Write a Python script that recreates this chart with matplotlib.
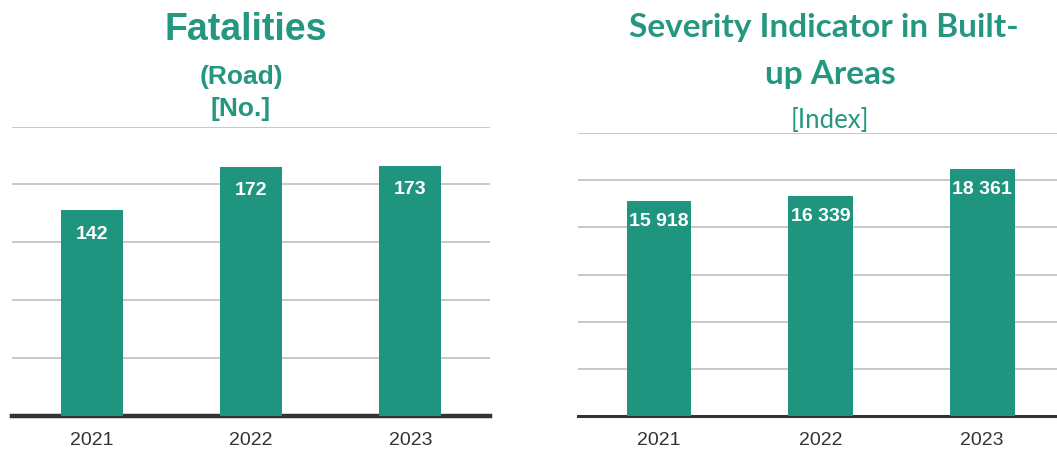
import matplotlib.pyplot as plt

years = ["2021", "2022", "2023"]
fatalities = [142, 172, 173]
severity = [15918, 16339, 18361]

TEAL = "#1f9580"
TITLE_TEAL = "#23977f"
GRID = "#c4c4c4"

plt.rcParams["font.family"] = ["Liberation Sans", "DejaVu Sans"]

fig = plt.figure(figsize=(10.57, 4.52), dpi=100)
W, H = 1057, 452


def px_axes(x0, x1, y_top, y_bottom):
    return fig.add_axes([x0 / W, 1 - y_bottom / H, (x1 - x0) / W, (y_bottom - y_top) / H])


def style(ax, ymax, step, base_lw):
    ax.set_xlim(-0.5, 2.5)
    ax.set_ylim(0, ymax)
    ax.set_yticks([step * i for i in range(1, int(round(ymax / step)) + 1)])
    ax.yaxis.grid(True, color=GRID, linewidth=1.3)
    ax.set_axisbelow(True)
    for s in ["top", "right", "left"]:
        ax.spines[s].set_visible(False)
    ax.spines["bottom"].set_color("#333333")
    ax.spines["bottom"].set_linewidth(base_lw)
    ax.tick_params(axis="y", left=False, labelleft=False)
    ax.tick_params(axis="x", length=0, pad=11, labelsize=14, labelcolor="#333333")


def fmt(v):
    return f"{v:,}".replace(",", " ")


# left panel: road fatalities
ax1 = px_axes(12, 490, 127.5, 417)
ax1.bar(range(3), fatalities, width=0.39, color=TEAL, zorder=3)
ax1.set_xticks(range(3))
ax1.set_xticklabels(years)
style(ax1, 200, 40, 3.2)
for i, v in enumerate(fatalities):
    ax1.annotate(fmt(v), (i, v), xytext=(0, -16.5), textcoords="offset points",
                 ha="center", va="center", color="white", fontsize=14,
                 fontweight="bold", zorder=4)

# right panel: severity indicator
ax2 = px_axes(578, 1063, 134, 417)
ax2.bar(range(3), severity, width=0.4, color=TEAL, zorder=3)
ax2.set_xticks(range(3))
ax2.set_xticklabels(years)
style(ax2, 21000, 3500, 2.2)
for i, v in enumerate(severity):
    ax2.annotate(fmt(v), (i, v), xytext=(0, -14), textcoords="offset points",
                 ha="center", va="center", color="white", fontsize=14,
                 fontweight="bold", zorder=4)

# titles
fig.text(246 / W, 1 - 40 / H, "Fatalities", ha="center", va="baseline",
         fontsize=27, fontweight="bold", color=TITLE_TEAL)
fig.text(241 / W, 1 - 84 / H, "(Road)", ha="center", va="baseline",
         fontsize=19, fontweight="bold", color=TITLE_TEAL)
fig.text(241 / W, 1 - 116 / H, "[No.]", ha="center", va="baseline",
         fontsize=19, fontweight="bold", color=TITLE_TEAL)

right_font = ["Lato", "DejaVu Sans"]
fig.text(824 / W, 1 - 37 / H, "Severity Indicator in Built-", ha="center", va="baseline",
         fontsize=24, fontweight="bold", color=TITLE_TEAL, family=right_font)
fig.text(830 / W, 1 - 84 / H, "up Areas", ha="center", va="baseline",
         fontsize=24, fontweight="bold", color=TITLE_TEAL, family=right_font)
fig.text(830 / W, 1 - 128 / H, "[Index]", ha="center", va="baseline",
         fontsize=18.5, color=TITLE_TEAL, family=right_font)

fig.savefig("out.png", dpi=100)
